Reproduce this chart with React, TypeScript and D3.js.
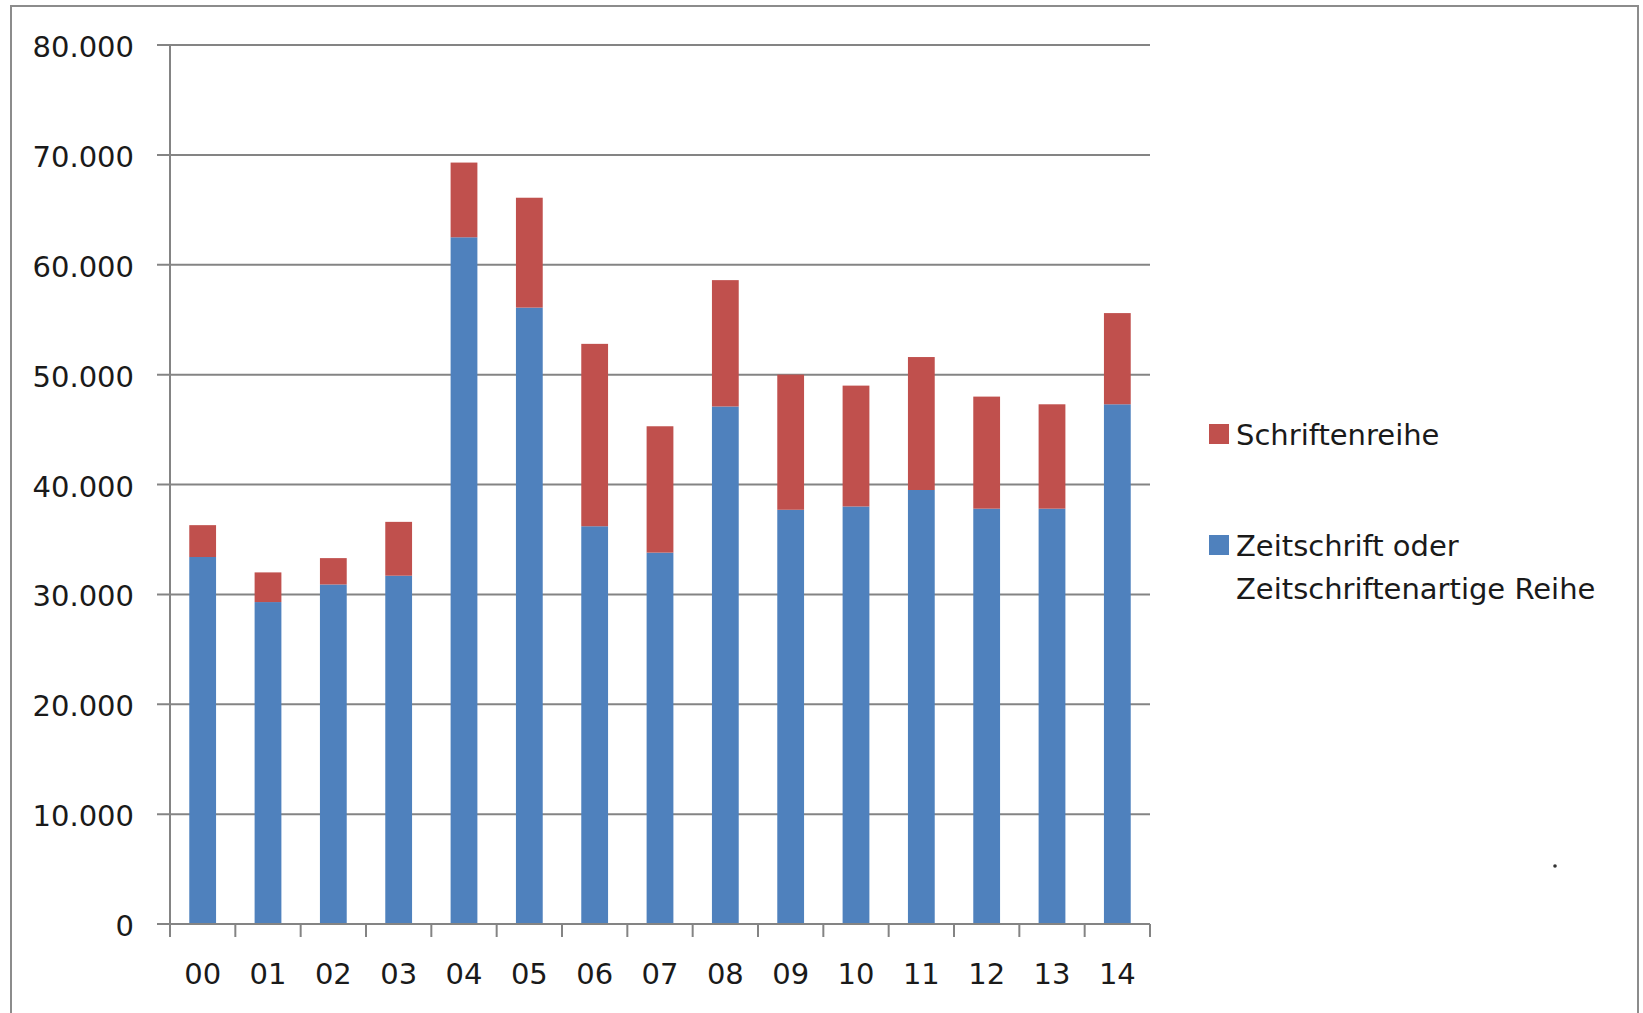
import React from "react";
import * as d3 from "d3";

const categories = ["00", "01", "02", "03", "04", "05", "06", "07", "08", "09", "10", "11", "12", "13", "14"];
const zeitschrift = [33400, 29300, 30900, 31700, 62500, 56100, 36200, 33800, 47100, 37700, 38000, 39500, 37800, 37800, 47300];
const schriftenreihe = [2900, 2700, 2400, 4900, 6800, 10000, 16600, 11500, 11500, 12300, 11000, 12100, 10200, 9500, 8300];
const yTicks = [0, 10000, 20000, 30000, 40000, 50000, 60000, 70000, 80000];
const legendSchriften = "Schriftenreihe";
const legendZeitLines = ["Zeitschrift oder", "Zeitschriftenartige Reihe"];

const W = 1643;
const H = 1013;
const BLUE = "#4F81BD";
const RED = "#C0504D";
const GRID = "#848484";
const TEXT = "#1a1a1a";
const FONT = "'DejaVu Sans', Verdana, sans-serif";

const deLocale = d3.formatLocale({ decimal: ",", thousands: ".", grouping: [3], currency: ["", " €"] });
const fmt = deLocale.format(",d");

export default function App() {
  const x = d3.scaleBand<string>().domain(categories).range([170, 1150]).paddingInner(0.59).paddingOuter(0.295);
  const y = d3.scaleLinear().domain([0, 80000]).range([924, 45]);
  const step = x.step();
  const bw = x.bandwidth();

  const rows = categories.map((c, i) => ({ c, z: zeitschrift[i], s: schriftenreihe[i] }));
  const stack = d3.stack<any>().keys(["z", "s"])(rows);
  const colors = [BLUE, RED];

  const boundaries = categories.map((c) => (x(c) as number) + bw / 2 - step / 2);
  boundaries.push(boundaries[boundaries.length - 1] + step);

  const x0 = 170;
  const x1 = 1150;

  return (
    <svg width={W} height={H} style={{ position: "absolute", left: 0, top: 0, background: "#fff" }} xmlns="http://www.w3.org/2000/svg">
      <rect x={0} y={0} width={W} height={H} fill="#fff" />
      <rect x={11} y={6} width={1627} height={1030} fill="none" stroke="#8c8c8c" strokeWidth={2} />

      {/* gridlines + y ticks */}
      {yTicks.map((t) => (
        <g key={t}>
          <line x1={157} x2={x1} y1={y(t)} y2={y(t)} stroke={GRID} strokeWidth={2} />
          <text x={134} y={y(t) + 12} textAnchor="end" fontFamily={FONT} fontSize={29} fill={TEXT}>
            {fmt(t)}
          </text>
        </g>
      ))}

      {/* bars */}
      {stack.map((layer, li) => (
        <g key={li} fill={colors[li]}>
          {layer.map((d: any, i: number) => (
            <rect key={i} x={x(categories[i]) as number} width={bw} y={y(d[1])} height={y(d[0]) - y(d[1])} />
          ))}
        </g>
      ))}

      {/* axes */}
      <line x1={x0} x2={x0} y1={y(80000)} y2={937} stroke={GRID} strokeWidth={2} />
      <line x1={157} x2={x1} y1={y(0)} y2={y(0)} stroke={GRID} strokeWidth={2} />
      {boundaries.map((b, i) => (
        <line key={i} x1={b} x2={b} y1={y(0)} y2={937} stroke={GRID} strokeWidth={2} />
      ))}
      {categories.map((c) => (
        <text key={c} x={(x(c) as number) + bw / 2} y={984} textAnchor="middle" fontFamily={FONT} fontSize={29} fill={TEXT}>
          {c}
        </text>
      ))}

      {/* legend */}
      <rect x={1209} y={424} width={20} height={20} fill={RED} />
      <text x={1236} y={445} fontFamily={FONT} fontSize={29} fill={TEXT}>{legendSchriften}</text>
      <rect x={1209} y={535} width={20} height={20} fill={BLUE} />
      <text x={1236} y={556} fontFamily={FONT} fontSize={29} fill={TEXT}>{legendZeitLines[0]}</text>
      <text x={1236} y={599} fontFamily={FONT} fontSize={29} fill={TEXT}>{legendZeitLines[1]}</text>

      <circle cx={1555} cy={866} r={1.8} fill="#333" />
    </svg>
  );
}
